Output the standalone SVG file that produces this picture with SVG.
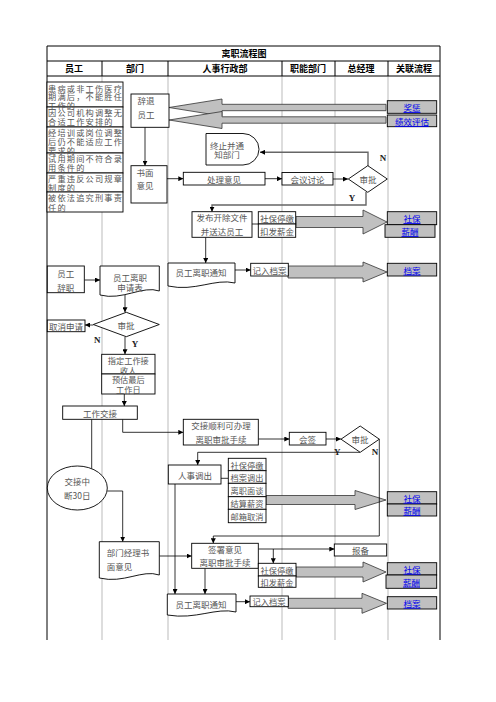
<svg xmlns="http://www.w3.org/2000/svg" width="496" height="702" viewBox="0 0 496 702">
<style>
.hdr{font-family:"Noto Sans CJK SC","Noto Sans",sans-serif;font-weight:bold;font-size:9px;fill:#000;text-anchor:middle;dominant-baseline:central}
.t{font-family:"Noto Sans CJK SC","Noto Sans",sans-serif;font-size:8.5px;fill:#555;text-anchor:middle;dominant-baseline:central}
.s{font-size:8.2px}
.r{font-family:"Noto Sans CJK SC","Noto Sans",sans-serif;font-size:8.2px;fill:#555;letter-spacing:1.2px;dominant-baseline:central}
.yn{font-family:"Liberation Serif",serif;font-weight:bold;font-size:9px;fill:#222;text-anchor:middle;dominant-baseline:central}
.link{fill:#0000ee;text-decoration:underline}
.box{fill:#fff;stroke:#000;stroke-width:0.9}
.lbox{fill:#c0c0c0;stroke:#000;stroke-width:0.9}
.big{fill:#c0c0c0;stroke:#333;stroke-width:0.8}
.g{stroke:#aaa;stroke-width:0.8;fill:none}
.k{stroke:#000;stroke-width:1;fill:none}
.c{fill:none;stroke:#000;stroke-width:0.8}
.cg{fill:none;stroke:#666;stroke-width:1.4}
</style>
<defs>
<marker id="a" viewBox="0 0 6 6" refX="6" refY="3" markerWidth="5" markerHeight="5" markerUnits="userSpaceOnUse" orient="auto"><path d="M0,0 L6,3 L0,6 z" fill="#000"/></marker>
</defs>
<rect width="496" height="702" fill="#fff"/>
<g id="table">
<line class="g" x1="102" y1="76" x2="102" y2="640"/>
<line class="g" x1="168" y1="76" x2="168" y2="640"/>
<line class="g" x1="282" y1="76" x2="282" y2="640"/>
<line class="g" x1="335" y1="76" x2="335" y2="640"/>
<line class="g" x1="388" y1="76" x2="388" y2="640"/>
<path class="k" d="M47,46 H440 M47,61 H440 M47,76 H440 M47,46 V640 M440,46 V640 M102,61 V76 M168,61 V76 M282,61 V76 M335,61 V76 M388,61 V76"/>
<text class="hdr" x="244" y="53.5">离职流程图</text>
<text class="hdr" x="74" y="68.5">员工</text>
<text class="hdr" x="135" y="68.5">部门</text>
<text class="hdr" x="225" y="68.5">人事行政部</text>
<text class="hdr" x="308" y="68.5">职能部门</text>
<text class="hdr" x="361" y="68.5">总经理</text>
<text class="hdr" x="414" y="68.5">关联流程</text>
</g>
<g id="reasons">
<rect class="box" x="47" y="82" width="76" height="25"/>
<rect class="box" x="47" y="107" width="76" height="20"/>
<rect class="box" x="47" y="127" width="76" height="26"/>
<rect class="box" x="47" y="153" width="76" height="20"/>
<rect class="box" x="47" y="173" width="76" height="19"/>
<rect class="box" x="47" y="192" width="76" height="20"/>
<text class="r" x="48" y="87.5">患病或非工伤医疗</text>
<text class="r" x="48" y="96">期满后，不能胜任</text>
<text class="r" x="48" y="104.5">工作的</text>
<text class="r" x="48" y="112">因公司机构调整无</text>
<text class="r" x="48" y="121">合适工作安排的</text>
<text class="r" x="48" y="131.5">经培训或岗位调整</text>
<text class="r" x="48" y="140.5">后仍不能适应工作</text>
<text class="r" x="48" y="149.5">要求的</text>
<text class="r" x="48" y="157.5">试用期间不符合录</text>
<text class="r" x="48" y="167">用条件的</text>
<text class="r" x="48" y="177.5">严重违反公司规章</text>
<text class="r" x="48" y="186.5">制度的</text>
<text class="r" x="48" y="197">被依法追究刑事责</text>
<text class="r" x="48" y="206.5">任的</text>
</g>
<g id="bigarrows">
<polygon class="big" points="386,104.3 222,104.3 222,99 169,107.5 222,116 222,110.7 386,110.7"/>
<polygon class="big" points="386,116.8 222,116.8 222,111.5 169,120 222,128.5 222,123.2 386,123.2"/>
<polygon class="big" points="296,216.5 363,216.5 363,210 387,222 363,234 363,227.5 296,227.5"/>
<polygon class="big" points="288,266 363,266 363,262 387,272 363,282 363,278 288,278"/>
<polygon class="big" points="266,495.5 355,495.5 355,490.5 386,500 355,509.5 355,504.5 266,504.5"/>
<polygon class="big" points="296,567 363,567 363,562 386,572 363,582 363,577 296,577"/>
<polygon class="big" points="288,598.3 362,598.3 362,593.3 386.5,603.3 362,613.3 362,608.3 288,608.3"/>
</g>
<g id="connectors">
<path class="c" d="M145,127 V165.7" marker-end="url(#a)"/>
<path class="c" d="M167,178.7 H183.3" marker-end="url(#a)"/>
<path class="c" d="M265,178.7 H282" marker-end="url(#a)"/>
<path class="c" d="M333,179 H348" marker-end="url(#a)"/>
<path class="cg" d="M368,166 V152.3 H260" marker-end="url(#a)"/>
<path class="cg" d="M366,192 V205 H212 V211.7" marker-end="url(#a)"/>
<path class="c" d="M252,224 H258.3"/>
<path class="c" d="M205.7,237.3 V263" marker-end="url(#a)"/>
<path class="c" d="M235,270 H250.7" marker-end="url(#a)"/>
<path class="c" d="M84.3,280 H100" marker-end="url(#a)"/>
<path class="c" d="M125,295 V312.3" marker-end="url(#a)"/>
<path class="c" d="M93.3,325 H85" marker-end="url(#a)"/>
<path class="c" d="M125,336.7 V354.3" marker-end="url(#a)"/>
<path class="c" d="M124.3,394 V406" marker-end="url(#a)"/>
<path class="c" d="M122.7,419.3 V432.3 H183.3" marker-end="url(#a)"/>
<path class="c" d="M91.7,419.3 V468.7"/>
<path class="c" d="M258.3,439 H289.3" marker-end="url(#a)"/>
<path class="c" d="M326,439 H341" marker-end="url(#a)"/>
<path class="c" d="M360,452.3 H197.7 V465" marker-end="url(#a)"/>
<path class="c" d="M379.3,439 V536 H213.3 V543.3" marker-end="url(#a)"/>
<path class="c" d="M221,478.3 H228.3"/>
<path class="c" d="M175,484 V594" marker-end="url(#a)"/>
<path class="c" d="M107.3,491 H122.7 V541.7" marker-end="url(#a)"/>
<path class="c" d="M159.3,556 H191.7" marker-end="url(#a)"/>
<path class="c" d="M258.3,549 H334.3" marker-end="url(#a)"/>
<path class="c" d="M273.3,549 V563.3" marker-end="url(#a)"/>
<path class="c" d="M205,568.3 V594" marker-end="url(#a)"/>
<path class="c" d="M236,601.7 H250" marker-end="url(#a)"/>
<text class="yn" x="383" y="158">N</text>
<text class="yn" x="352" y="198">Y</text>
<text class="yn" x="97.3" y="340">N</text>
<text class="yn" x="135" y="344">Y</text>
<text class="yn" x="337.3" y="451.7">Y</text>
<text class="yn" x="375" y="452.3">N</text>
</g>
<g id="n-cituiyuangong">
<rect class="box" x="131" y="94" width="38" height="33.3"/>
<text class="t" x="146" y="100">辞退</text>
<text class="t" x="146" y="113.5">员工</text>
</g>
<g id="n-shumianyijian">
<rect class="box" x="131" y="165.7" width="36" height="37.3"/>
<text class="t" x="145" y="171.7">书面</text>
<text class="t" x="145" y="185">意见</text>
</g>
<g id="n-jiangcheng">
<rect class="lbox" x="387.3" y="100.7" width="49.4" height="12.6"/>
<text class="t link" x="412" y="107">奖惩</text>
</g>
<g id="n-jixiao">
<rect class="lbox" x="387.3" y="115" width="49.4" height="11.7"/>
<text class="t link" x="412" y="121">绩效评估</text>
</g>
<g id="n-zhongzhi">
<path class="box" d="M206,133.5 H243 A16,15.75 0 0 1 243,165 H206 Z"/>
<text class="t" x="227" y="145">终止并通</text>
<text class="t" x="227" y="154.3">知部门</text>
</g>
<g id="n-chuli">
<rect class="box" x="183.3" y="172.3" width="81.7" height="12.7"/>
<text class="t" x="224" y="178.7">处理意见</text>
</g>
<g id="n-huiyi">
<rect class="box" x="282" y="172.5" width="51" height="12.5"/>
<text class="t" x="307.5" y="178.7">会议讨论</text>
</g>
<g id="n-shenpi1">
<polygon class="box" points="367.8,165.7 387.3,179 367.8,192.3 348.3,179"/>
<text class="t" x="368" y="179">审批</text>
</g>
<g id="n-fabu">
<rect class="box" x="192" y="211.7" width="60" height="25.6"/>
<text class="t" x="222" y="217">发布开除文件</text>
<text class="t" x="222" y="231.3">并送达员工</text>
</g>
<g id="n-shebao1">
<rect class="box" x="258.3" y="211.7" width="37.4" height="12.3"/>
<rect class="box" x="258.3" y="224" width="37.4" height="13.3"/>
<text class="t" x="277" y="218">社保停缴</text>
<text class="t" x="277" y="230.7">扣发薪金</text>
</g>
<g id="n-link1">
<rect class="lbox" x="387.3" y="211.7" width="49.4" height="13"/>
<rect class="lbox" x="385" y="224.7" width="50" height="12.6"/>
<text class="t link" x="412" y="218">社保</text>
<text class="t link" x="410" y="231">薪酬</text>
</g>
<g id="n-tongzhi1">
<path class="box" d="M168,263 H235 V283 C215,278 195,292 168,286 Z"/>
<text class="t" x="201" y="271.7">员工离职通知</text>
</g>
<g id="n-dangan1">
<rect class="box" x="250.7" y="263.3" width="37.6" height="12.7"/>
<text class="t" x="269.5" y="269.7">记入档案</text>
</g>
<g id="n-link2">
<rect class="lbox" x="387.3" y="263.3" width="49.4" height="12.7"/>
<text class="t link" x="412" y="269.7">档案</text>
</g>
<g id="n-cizhi">
<rect class="box" x="47.3" y="266" width="37" height="26.7"/>
<text class="t" x="65.8" y="272.5">员工</text>
<text class="t" x="65.8" y="286.5">辞职</text>
</g>
<g id="n-shenqing">
<path class="box" d="M100,266 H159.3 V291 C143,285 122,301 100,295 Z"/>
<text class="t" x="130" y="276.5">员工离职</text>
<text class="t" x="130" y="287.3">申请表</text>
</g>
<g id="n-shenpi2">
<polygon class="box" points="126.3,312.3 159.3,324.5 126.3,336.7 93.3,324.5"/>
<text class="t" x="126" y="324.5">审批</text>
</g>
<g id="n-quxiao">
<rect class="box" x="47.3" y="320" width="37.7" height="11.7"/>
<text class="t" x="66" y="325.8">取消申请</text>
</g>
<g id="n-zhiding">
<rect class="box" x="101.7" y="354.3" width="53.3" height="19.7"/>
<rect class="box" x="101.7" y="374" width="53.3" height="20"/>
<text class="t s" x="128.3" y="360">指定工作接</text>
<text class="t s" x="128.3" y="369.5">收人</text>
<text class="t s" x="128.3" y="379">预估最后</text>
<text class="t s" x="128.3" y="389">工作日</text>
</g>
<g id="n-jiaojie">
<rect class="box" x="62.7" y="406" width="74.6" height="13.3"/>
<text class="t" x="100" y="412.7">工作交接</text>
</g>
<g id="n-shunli">
<rect class="box" x="183.3" y="419.3" width="75" height="25.7"/>
<text class="t" x="221" y="425.3">交接顺利可办理</text>
<text class="t" x="221" y="439">离职审批手续</text>
</g>
<g id="n-huiqian">
<rect class="box" x="289.3" y="432.3" width="36.7" height="12.7"/>
<text class="t" x="307.6" y="438.7">会签</text>
</g>
<g id="n-shenpi3">
<polygon class="box" points="360.2,426 379.3,439.2 360.2,452.3 341,439.2"/>
<text class="t" x="360" y="439">审批</text>
</g>
<g id="n-diaochu">
<rect class="box" x="168.3" y="465" width="52.7" height="19"/>
<text class="t" x="195" y="474.5">人事调出</text>
</g>
<g id="n-list">
<rect class="box" x="228.3" y="458.3" width="37.7" height="12.4"/>
<rect class="box" x="228.3" y="470.7" width="37.7" height="12.6"/>
<rect class="box" x="228.3" y="483.3" width="37.7" height="13.4"/>
<rect class="box" x="228.3" y="496.7" width="37.7" height="12.6"/>
<rect class="box" x="228.3" y="509.3" width="37.7" height="13.4"/>
<text class="t s" x="247" y="464.5">社保停缴</text>
<text class="t s" x="247" y="477">档案调出</text>
<text class="t s" x="247" y="490">离职面谈</text>
<text class="t s" x="247" y="503">结算薪资</text>
<text class="t s" x="247" y="516">邮箱取消</text>
</g>
<g id="n-zhongduan">
<ellipse class="box" cx="77.3" cy="488" rx="30" ry="22"/>
<text class="t" x="77.3" y="481">交接中</text>
<text class="t" x="77.3" y="494.5">断30日</text>
</g>
<g id="n-link3">
<rect class="lbox" x="387.3" y="491.7" width="49.4" height="12.3"/>
<rect class="lbox" x="387.3" y="504" width="49.4" height="12"/>
<text class="t link" x="412" y="497.8">社保</text>
<text class="t link" x="412" y="510">薪酬</text>
</g>
<g id="n-jingli">
<path class="box" d="M99.3,541.7 H159.3 V575 C142,569 124,584 99.3,578 Z"/>
<text class="t" x="106.7" y="551.7" style="text-anchor:start">部门经理书</text>
<text class="t" x="106.7" y="566" style="text-anchor:start">面意见</text>
</g>
<g id="n-qianshu">
<rect class="box" x="191.7" y="543.3" width="66.6" height="25"/>
<text class="t" x="225" y="549">签署意见</text>
<text class="t" x="225" y="562.3">离职审批手续</text>
</g>
<g id="n-baobei">
<rect class="box" x="334.3" y="544" width="52.4" height="12"/>
<text class="t" x="360.5" y="550">报备</text>
</g>
<g id="n-shebao2">
<rect class="box" x="258.3" y="563.3" width="37.7" height="12.7"/>
<rect class="box" x="258.3" y="576" width="37.7" height="11.3"/>
<text class="t s" x="277" y="569.7">社保停缴</text>
<text class="t s" x="277" y="581.7">扣发薪金</text>
</g>
<g id="n-link4">
<rect class="lbox" x="387.3" y="562.7" width="49.4" height="12.3"/>
<rect class="lbox" x="386" y="575" width="50.7" height="13.3"/>
<text class="t link" x="412" y="568.8">社保</text>
<text class="t link" x="411.5" y="581.7">薪酬</text>
</g>
<g id="n-tongzhi2">
<path class="box" d="M167.3,594 H236 V612 C216,607 196,620 167.3,615 Z"/>
<text class="t" x="201" y="603.7">员工离职通知</text>
</g>
<g id="n-dangan2">
<rect class="box" x="250" y="596" width="38.3" height="10.7"/>
<text class="t s" x="269" y="601.3">记入档案</text>
</g>
<g id="n-link5">
<rect class="lbox" x="387.3" y="596.7" width="49.4" height="12.3"/>
<text class="t link" x="412" y="602.8">档案</text>
</g>
</svg>
